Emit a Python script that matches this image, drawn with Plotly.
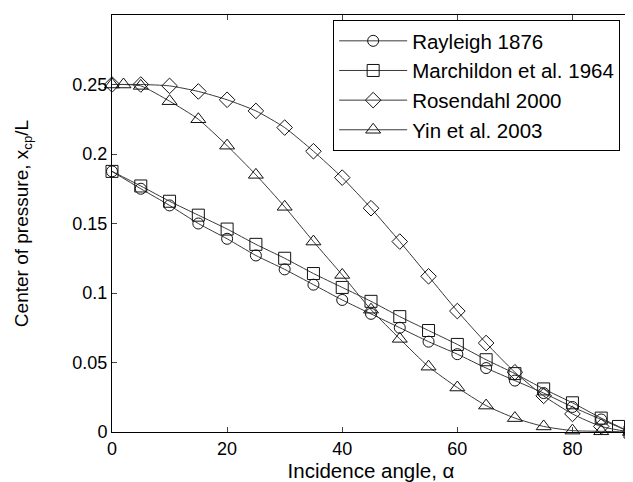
import plotly.graph_objects as go

# Incidence angles (degrees)
alpha_rayleigh = [0, 5, 10, 15, 20, 25, 30, 35, 40, 45, 50, 55, 60, 65, 70, 75, 80, 85, 90]
xcp_rayleigh = [0.1875, 0.175, 0.163, 0.150, 0.139, 0.127, 0.117, 0.106, 0.095, 0.085,
                0.075, 0.065, 0.056, 0.046, 0.037, 0.028, 0.018, 0.009, 0.0]

alpha_marchildon = [0, 5, 10, 15, 20, 25, 30, 35, 40, 45, 50, 55, 60, 65, 70, 75, 80, 85, 88, 90]
xcp_marchildon = [0.1875, 0.177, 0.166, 0.156, 0.146, 0.135, 0.125, 0.114, 0.104, 0.094,
                  0.083, 0.073, 0.063, 0.052, 0.042, 0.031, 0.021, 0.010, 0.004, 0.0]

alpha_rosendahl = [0, 5, 10, 15, 20, 25, 30, 35, 40, 45, 50, 55, 60, 65, 70, 75, 80, 85, 90]
xcp_rosendahl = [0.250, 0.250, 0.249, 0.245, 0.239, 0.231, 0.219, 0.202, 0.183, 0.161,
                 0.137, 0.112, 0.087, 0.064, 0.043, 0.026, 0.013, 0.004, 0.0]

alpha_yin = [0, 2, 5, 10, 15, 20, 25, 30, 35, 40, 45, 50, 55, 60, 65, 70, 75, 80, 85, 90]
xcp_yin = [0.250, 0.250, 0.249, 0.238, 0.225, 0.206, 0.185, 0.162, 0.137, 0.113, 0.088,
           0.067, 0.047, 0.032, 0.019, 0.010, 0.004, 0.001, 0.0005, 0.0]

series_names = ["Rayleigh 1876", "Marchildon et al. 1964", "Rosendahl 2000", "Yin et al. 2003"]
x_ticks = [0, 20, 40, 60, 80]
y_ticks = [0, 0.05, 0.1, 0.15, 0.2, 0.25]
y_tick_text = ["0", "0.05", "0.1", "0.15", "0.2", "0.25"]

symbols = ["circle-open", "square-open", "diamond-open", "triangle-up-open"]
sizes = [11, 12, 12, 13]
data = [(alpha_rayleigh, xcp_rayleigh), (alpha_marchildon, xcp_marchildon),
        (alpha_rosendahl, xcp_rosendahl), (alpha_yin, xcp_yin)]

fig = go.Figure()
for (xs, ys), name, sym, sz in zip(data, series_names, symbols, sizes):
    fig.add_trace(go.Scatter(
        x=xs, y=ys, name=name, mode="lines+markers",
        line=dict(color="#3a3a3a", width=1, shape="spline", smoothing=0.6),
        marker=dict(symbol=sym, size=sz, color="#111111", line=dict(color="#111111", width=1)),
        cliponaxis=False,
    ))

font_family = "Liberation Sans, Arial, sans-serif"
fig.update_layout(
    width=633, height=482,
    margin=dict(l=104, r=11, t=7, b=58),
    plot_bgcolor="white", paper_bgcolor="white",
    font=dict(family=font_family, size=18, color="black"),
    showlegend=True,
    legend=dict(
        x=0.981, y=0.988, xanchor="right", yanchor="top",
        bordercolor="black", borderwidth=1, bgcolor="white",
        font=dict(size=20.5, color="black"), itemwidth=68,
        tracegroupgap=0,
    ),
    xaxis=dict(
        range=[0, 90], tickvals=x_ticks, ticks="inside", ticklen=5,
        showline=True, linecolor="black", linewidth=1, mirror="ticks",
        showgrid=False, zeroline=False,
        title=dict(text="Incidence angle, α", font=dict(size=20.5), standoff=4),
        tickfont=dict(size=18),
    ),
    yaxis=dict(
        range=[0, 0.3], tickvals=y_ticks, ticktext=y_tick_text, ticks="inside", ticklen=5,
        showline=True, linecolor="black", linewidth=1, mirror="ticks",
        showgrid=False, zeroline=False,
        title=dict(text="Center of pressure, x<sub>cp</sub>/L", font=dict(size=19), standoff=38),
        tickfont=dict(size=18),
    ),
)

fig.write_html("out.html")
